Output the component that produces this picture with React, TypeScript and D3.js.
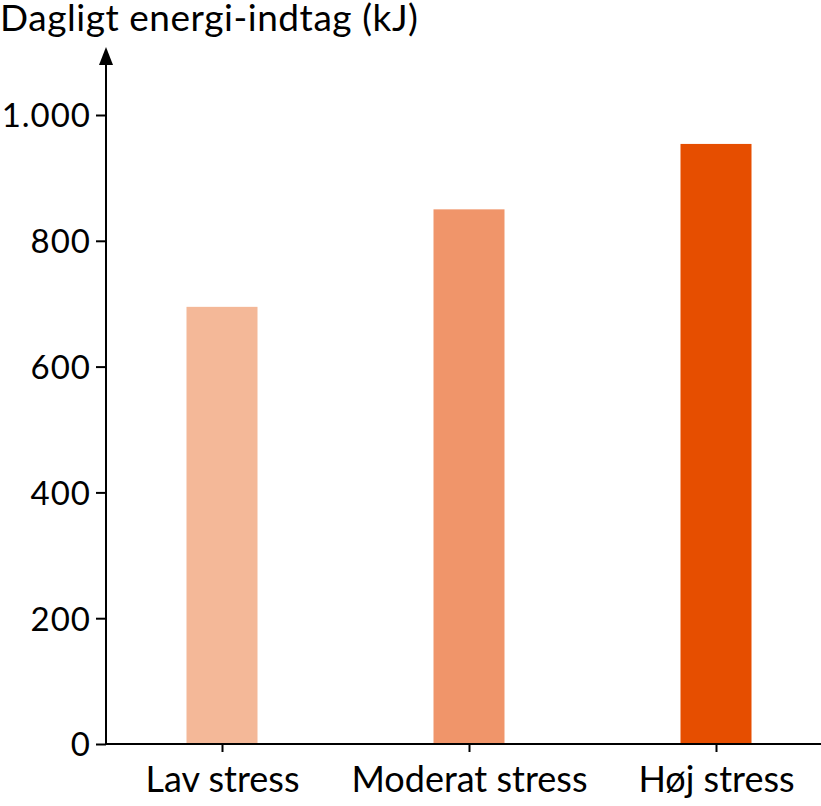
import React, { useEffect, useRef } from 'react';
import * as d3 from 'd3';

// data
const categories = ['Lav stress', 'Moderat stress', 'Høj stress'];
const values = [695, 850, 954];
const barColors = ['#F4B898', '#F0956A', '#E64E00'];
const yTicks = [0, 200, 400, 600, 800, 1000];

const W = 821, H = 806;
const FONT = 'Lato, "Open Sans", sans-serif';

export default function App() {
    const ref = useRef<SVGSVGElement>(null);

    useEffect(() => {
        const svg = d3.select(ref.current);
        svg.selectAll('*').remove();

        const axisX = 106, baseY = 744;
        const y = d3.scaleLinear().domain([0, 1000]).range([baseY, 115]);
        const x = d3.scalePoint<string>().domain(categories).range([222, 716]);
        const barW = 71;

        // bars
        svg.append('g').selectAll('rect')
            .data(values)
            .enter().append('rect')
            .attr('x', (d, i) => x(categories[i])! - barW / 2)
            .attr('y', d => y(d))
            .attr('width', barW)
            .attr('height', d => baseY - y(d))
            .style('fill', (d, i) => barColors[i]);

        // y axis
        const yAxis = svg.append('g').attr('transform', `translate(${axisX},0)`)
            .call(d3.axisLeft(y).tickValues(yTicks).tickSize(10).tickPadding(5)
                .tickFormat(d => d3.format(',')(d as number).replace(/,/g, '.')));
        yAxis.select('.domain').remove();
        yAxis.selectAll('line').attr('stroke', '#000').attr('stroke-width', 2);
        yAxis.selectAll('text').attr('font-family', FONT).attr('font-size', 33).attr('fill', '#000')
            .attr('dy', '0.36em').attr('letter-spacing', 1);

        svg.append('line')
            .attr('x1', axisX).attr('x2', axisX)
            .attr('y1', baseY + 1).attr('y2', 60)
            .attr('stroke', '#000').attr('stroke-width', 2);
        svg.append('path')
            .attr('d', `M${axisX},47 L${axisX - 7},65 L${axisX + 7},65 Z`)
            .attr('fill', '#000');

        // x axis
        const xAxis = svg.append('g').attr('transform', `translate(0,${baseY})`)
            .call(d3.axisBottom(x).tickSize(8).tickPadding(14));
        xAxis.select('.domain').remove();
        xAxis.selectAll('line').attr('stroke', '#000').attr('stroke-width', 2);
        xAxis.selectAll('text').attr('font-family', FONT).attr('font-size', 36).attr('fill', '#000');
        svg.append('line')
            .attr('x1', axisX - 1).attr('x2', W)
            .attr('y1', baseY).attr('y2', baseY)
            .attr('stroke', '#000').attr('stroke-width', 2);

        // title
        svg.append('text')
            .attr('x', 0).attr('y', 31)
            .attr('font-family', FONT).attr('font-size', 37)
            .attr('textLength', 418)
            .text('Dagligt energi-indtag (kJ)');
    }, []);

    return (
        <svg ref={ref} width={W} height={H}
            style={{ position: 'absolute', left: 0, top: 0, background: '#fff' }} />
    );
}
